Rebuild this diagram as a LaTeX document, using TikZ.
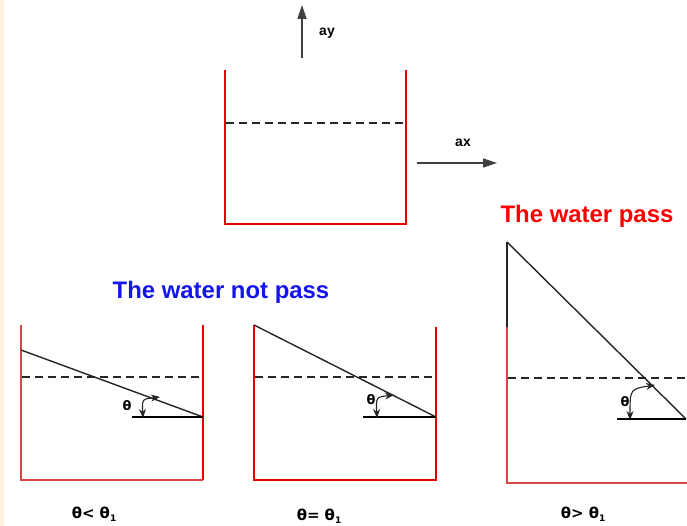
\documentclass[tikz,border=0pt]{standalone}
\usepackage{fontspec}
\setmainfont{Liberation Sans}
\newfontfamily\thfont{DejaVu Sans}
\usetikzlibrary{arrows.meta}
\definecolor{wallred}{RGB}{230,0,0}
\definecolor{softred}{RGB}{214,70,70}
\definecolor{cream}{RGB}{253,241,220}
\definecolor{textblue}{RGB}{20,20,240}
\begin{document}
\begin{tikzpicture}[x=1bp,y=-1bp,
  wall/.style={draw=wallred,line width=2bp},
  wallb/.style={draw=softred,line width=1.6bp},
  level/.style={draw=black!85,line width=1.2bp,dash pattern=on 8bp off 5bp},
  slope/.style={draw=black!85,line width=1.4bp},
  base/.style={draw=black,line width=1.5bp},
  anglearrow/.style={draw=black!85,line width=1.1bp,{Stealth[length=9bp,width=7bp]}-{Stealth[length=9bp,width=7bp]}},
  accel/.style={draw=black!75,line width=1.4bp,-{Triangle[length=14bp,width=9bp]}},
  small/.style={font=\bfseries\fontsize{14}{16}\selectfont},
  thlabel/.style={font=\thfont\bfseries\fontsize{13}{15}\selectfont},
  caption/.style={font=\thfont\bfseries\fontsize{15}{17}\selectfont},
  title/.style={font=\bfseries\fontsize{24}{28}\selectfont}
]
\useasboundingbox (0,0) rectangle (687,526);
\fill[white] (0,0) rectangle (687,526);
\fill[cream] (0,0) rectangle (4,526);

% ---------- top container ----------
\coordinate (tTL) at (225,70);
\coordinate (tBL) at (225,224);
\coordinate (tBR) at (406,224);
\coordinate (tTR) at (406,70);
\draw[wall] (tTL) -- (tBL) -- (tBR) -- (tTR);
\coordinate (tDL) at (226,123);
\coordinate (tDR) at (405,123);
\draw[level] (tDL) -- (tDR);

\coordinate (ayS) at (302,58);
\coordinate (ayE) at (302,5);
\draw[accel] (ayS) -- (ayE);
\node[small] (ay) at (327,33) {ay};
\coordinate (axS) at (417,163);
\coordinate (axE) at (497,163);
\draw[accel] (axS) -- (axE);
\node[small] (ax) at (463,143) {ax};

\node[title,text=red] (pass) at (587,216) {The water pass};
\node[title,text=textblue] (notpass) at (221,292) {The water not pass};

% ---------- container 1 ----------
\coordinate (aTL) at (21,325);
\coordinate (aBL) at (21,480);
\coordinate (aBR) at (203,480);
\coordinate (aTR) at (203,325);
\draw[wallb] (aTL) -- (aBL) -- (aBR);
\draw[wall,line width=1.6bp] (aBR) -- (aTR);
\coordinate (aDL) at (22,377);
\coordinate (aDR) at (202,377);
\draw[level] (aDL) -- (aDR);
\coordinate (aS) at (21,350);
\coordinate (aV) at (203,417);
\coordinate (aH) at (132,417);
\draw[slope] (aS) -- (aV);
\draw[base] (aH) -- (aV);
\coordinate (aA1) at (160,397);
\coordinate (aA2) at (143,418);
\draw[anglearrow] (aA2) .. controls (142,399) .. (aA1);
\node[thlabel] (ath) at (127,406) {θ};
\node[caption] (acap) at (94,514) {θ< θ\raisebox{-0.35ex}{\fontsize{9}{10}\selectfont 1}};

% ---------- container 2 ----------
\coordinate (bTL) at (254,325);
\coordinate (bBL) at (254,480);
\coordinate (bBR) at (436,480);
\coordinate (bTR) at (436,327);
\draw[wall,line width=1.5bp] (bTL) -- (bBL) -- (bBR) -- (bTR);
\coordinate (bDL) at (255,377);
\coordinate (bDR) at (433,377);
\draw[level] (bDL) -- (bDR);
\coordinate (bS) at (254,325);
\coordinate (bV) at (436,417);
\coordinate (bH) at (363,417);
\draw[slope] (bS) -- (bV);
\draw[base] (bH) -- (bV);
\coordinate (bA1) at (394,395);
\coordinate (bA2) at (377,418);
\draw[anglearrow] (bA2) .. controls (376,397) .. (bA1);
\node[thlabel] (bth) at (371,400) {θ};
\node[caption] (bcap) at (319,516) {θ= θ\raisebox{-0.35ex}{\fontsize{9}{10}\selectfont 1}};

% ---------- container 3 ----------
\coordinate (cTop) at (507,242);
\coordinate (cMid) at (507,327);
\coordinate (cBL) at (507,483);
\coordinate (cBR) at (687,483);
\draw[slope] (cTop) -- (cMid);
\draw[wallb] (cMid) -- (cBL) -- (cBR);
\coordinate (cDL) at (508,378);
\coordinate (cDR) at (687,378);
\draw[level] (cDL) -- (cDR);
\coordinate (cV) at (686,419);
\coordinate (cH) at (617,419);
\draw[slope] (cTop) -- (cV);
\draw[base] (cH) -- (cV);
\coordinate (cA1) at (655,385);
\coordinate (cA2) at (630,420);
\draw[anglearrow] (cA2) .. controls (630,389) .. (cA1);
\node[thlabel] (cth) at (625,402) {θ};
\node[caption] (ccap) at (583,514) {θ> θ\raisebox{-0.35ex}{\fontsize{9}{10}\selectfont 1}};
\end{tikzpicture}
\end{document}
